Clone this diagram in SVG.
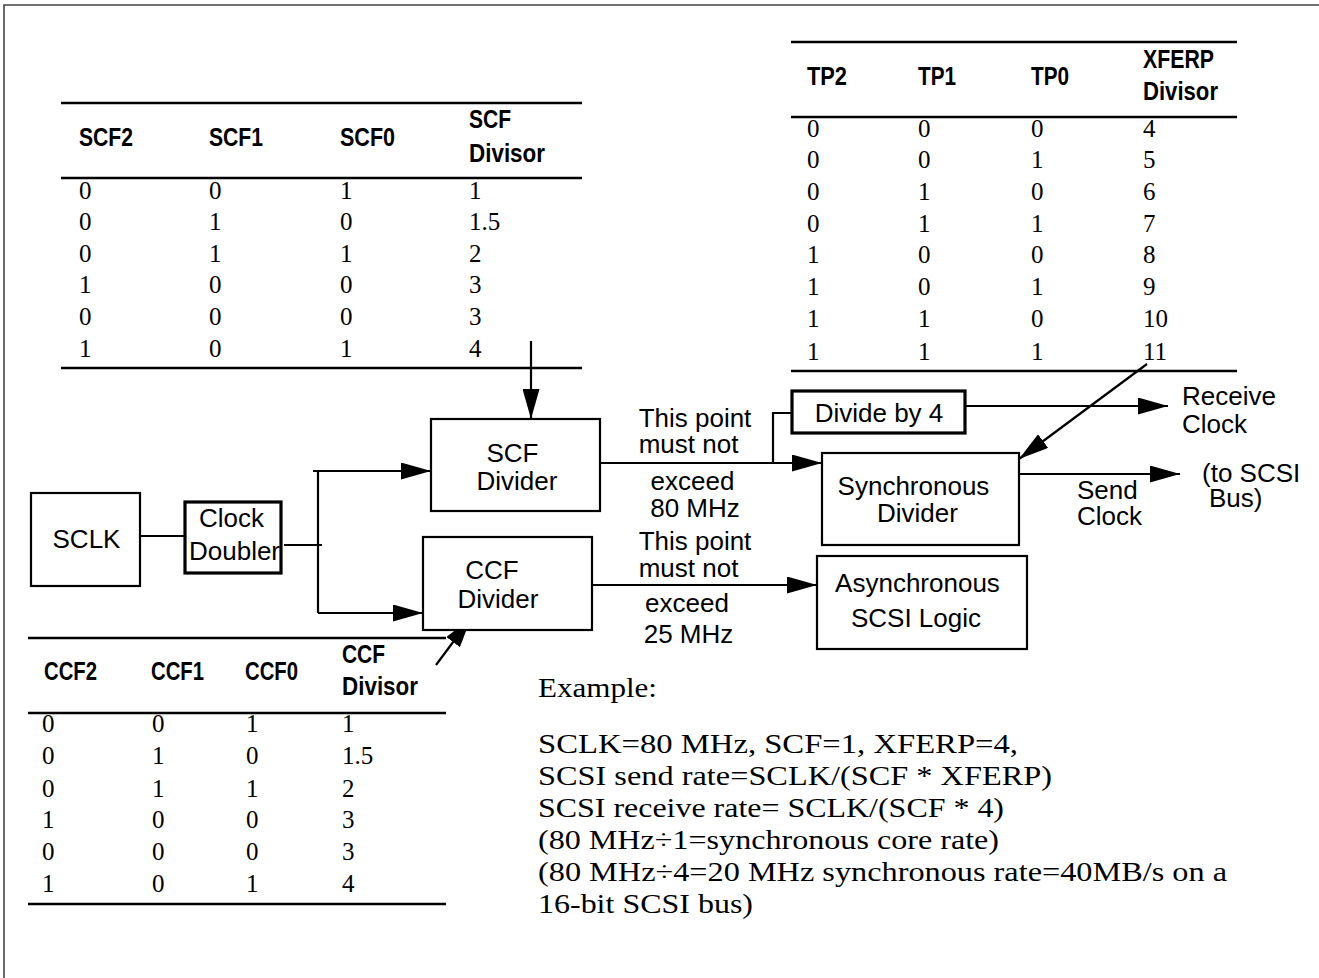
<svg xmlns="http://www.w3.org/2000/svg" width="1319" height="978" viewBox="0 0 1319 978">
<defs>
<marker id="ah" markerUnits="userSpaceOnUse" markerWidth="30" markerHeight="17" refX="30" refY="8.5" orient="auto">
<path d="M0,0 L30,8.5 L0,17 Z" fill="#000"/>
</marker>
</defs>
<style>
.box{fill:#fff;stroke:#000;stroke-width:2.2}
.tbox{fill:#fff;stroke:#000;stroke-width:3.2}
.lbl{font-family:"Liberation Sans",Arial,sans-serif;font-size:26px;fill:#000}
.c{text-anchor:middle}
.hd{font-family:"Liberation Sans",Arial,sans-serif;font-weight:bold;font-size:25px;fill:#000}
.num{font-family:"Liberation Serif","Times New Roman",serif;font-size:25px;fill:#000}
.ex{font-family:"Liberation Serif","Times New Roman",serif;font-size:27px;fill:#000}
.rule{stroke:#000;stroke-width:2.6;fill:none}
.wire{stroke:#000;stroke-width:2.2;fill:none}
.frame{stroke:#444;stroke-width:1.6;fill:none}
</style>
<rect width="1319" height="978" fill="#fff"/>
<path class="frame" d="M4,978 L4,5 L1319,5"/>

<g id="scf-table">
<line class="rule" x1="61" y1="103" x2="582" y2="103"/>
<line class="rule" x1="61" y1="178" x2="582" y2="178"/>
<line class="rule" x1="61" y1="368" x2="582" y2="368"/>
<text class="hd" x="79" y="146" textLength="54" lengthAdjust="spacingAndGlyphs">SCF2</text>
<text class="hd" x="209" y="146" textLength="54" lengthAdjust="spacingAndGlyphs">SCF1</text>
<text class="hd" x="340" y="146" textLength="55" lengthAdjust="spacingAndGlyphs">SCF0</text>
<text class="hd" x="469" y="128" textLength="42" lengthAdjust="spacingAndGlyphs">SCF</text>
<text class="hd" x="469" y="162" textLength="76" lengthAdjust="spacingAndGlyphs">Divisor</text>
<g class="num">
<text x="79" y="199">0</text><text x="209" y="199">0</text><text x="340" y="199">1</text><text x="469" y="199">1</text>
<text x="79" y="230">0</text><text x="209" y="230">1</text><text x="340" y="230">0</text><text x="469" y="230">1.5</text>
<text x="79" y="262">0</text><text x="209" y="262">1</text><text x="340" y="262">1</text><text x="469" y="262">2</text>
<text x="79" y="293">1</text><text x="209" y="293">0</text><text x="340" y="293">0</text><text x="469" y="293">3</text>
<text x="79" y="325">0</text><text x="209" y="325">0</text><text x="340" y="325">0</text><text x="469" y="325">3</text>
<text x="79" y="357">1</text><text x="209" y="357">0</text><text x="340" y="357">1</text><text x="469" y="357">4</text>
</g>
</g>

<g id="tp-table">
<line class="rule" x1="791" y1="42" x2="1237" y2="42"/>
<line class="rule" x1="791" y1="117" x2="1237" y2="117"/>
<line class="rule" x1="791" y1="371" x2="1237" y2="371"/>
<text class="hd" x="807" y="85" textLength="40" lengthAdjust="spacingAndGlyphs">TP2</text>
<text class="hd" x="918" y="85" textLength="38" lengthAdjust="spacingAndGlyphs">TP1</text>
<text class="hd" x="1031" y="85" textLength="38" lengthAdjust="spacingAndGlyphs">TP0</text>
<text class="hd" x="1143" y="68" textLength="71" lengthAdjust="spacingAndGlyphs">XFERP</text>
<text class="hd" x="1143" y="100" textLength="75" lengthAdjust="spacingAndGlyphs">Divisor</text>
<g class="num">
<text x="807" y="137">0</text><text x="918" y="137">0</text><text x="1031" y="137">0</text><text x="1143" y="137">4</text>
<text x="807" y="168">0</text><text x="918" y="168">0</text><text x="1031" y="168">1</text><text x="1143" y="168">5</text>
<text x="807" y="200">0</text><text x="918" y="200">1</text><text x="1031" y="200">0</text><text x="1143" y="200">6</text>
<text x="807" y="232">0</text><text x="918" y="232">1</text><text x="1031" y="232">1</text><text x="1143" y="232">7</text>
<text x="807" y="263">1</text><text x="918" y="263">0</text><text x="1031" y="263">0</text><text x="1143" y="263">8</text>
<text x="807" y="295">1</text><text x="918" y="295">0</text><text x="1031" y="295">1</text><text x="1143" y="295">9</text>
<text x="807" y="327">1</text><text x="918" y="327">1</text><text x="1031" y="327">0</text><text x="1143" y="327">10</text>
<text x="807" y="360">1</text><text x="918" y="360">1</text><text x="1031" y="360">1</text><text x="1143" y="360">11</text>
</g>
</g>

<g id="ccf-table">
<line class="rule" x1="28" y1="638" x2="446" y2="638"/>
<line class="rule" x1="28" y1="713" x2="446" y2="713"/>
<line class="rule" x1="28" y1="904" x2="446" y2="904"/>
<text class="hd" x="44" y="680" textLength="53" lengthAdjust="spacingAndGlyphs">CCF2</text>
<text class="hd" x="151" y="680" textLength="53" lengthAdjust="spacingAndGlyphs">CCF1</text>
<text class="hd" x="245" y="680" textLength="53" lengthAdjust="spacingAndGlyphs">CCF0</text>
<text class="hd" x="342" y="663" textLength="43" lengthAdjust="spacingAndGlyphs">CCF</text>
<text class="hd" x="342" y="695" textLength="76" lengthAdjust="spacingAndGlyphs">Divisor</text>
<g class="num">
<text x="42" y="732">0</text><text x="152" y="732">0</text><text x="246" y="732">1</text><text x="342" y="732">1</text>
<text x="42" y="764">0</text><text x="152" y="764">1</text><text x="246" y="764">0</text><text x="342" y="764">1.5</text>
<text x="42" y="797">0</text><text x="152" y="797">1</text><text x="246" y="797">1</text><text x="342" y="797">2</text>
<text x="42" y="828">1</text><text x="152" y="828">0</text><text x="246" y="828">0</text><text x="342" y="828">3</text>
<text x="42" y="860">0</text><text x="152" y="860">0</text><text x="246" y="860">0</text><text x="342" y="860">3</text>
<text x="42" y="892">1</text><text x="152" y="892">0</text><text x="246" y="892">1</text><text x="342" y="892">4</text>
</g>
</g>

<g id="connectors">
<line class="wire" x1="140" y1="536" x2="185" y2="536"/>
<line class="wire" x1="284" y1="545" x2="322" y2="545"/>
<line class="wire" x1="318" y1="471" x2="318" y2="613"/>
<line class="wire" x1="313" y1="471" x2="431" y2="471" marker-end="url(#ah)"/>
<line class="wire" x1="318" y1="613" x2="423" y2="613" marker-end="url(#ah)"/>
<line class="wire" x1="531" y1="341" x2="531" y2="419" marker-end="url(#ah)"/>
<line class="wire" x1="436" y1="665" x2="471" y2="618" marker-end="url(#ah)"/>
<line class="wire" x1="600" y1="463" x2="822" y2="463" marker-end="url(#ah)"/>
<polyline class="wire" points="773,463 773,413 792,413"/>
<line class="wire" x1="965" y1="406" x2="1168" y2="406" marker-end="url(#ah)"/>
<line class="wire" x1="1147" y1="364" x2="1019" y2="459" marker-end="url(#ah)"/>
<line class="wire" x1="1019" y1="474" x2="1180" y2="474" marker-end="url(#ah)"/>
<line class="wire" x1="592" y1="585" x2="817" y2="585" marker-end="url(#ah)"/>
</g>

<g id="sclk">
<rect class="box" x="31" y="493" width="109" height="93"/>
<text class="lbl c" x="86.5" y="548">SCLK</text>
</g>
<g id="clock-doubler">
<rect class="tbox" x="185" y="502" width="96" height="71"/>
<text class="lbl c" x="231.5" y="527">Clock</text>
<text class="lbl c" x="234.5" y="560">Doubler</text>
</g>
<g id="scf-divider">
<rect class="box" x="431" y="419" width="169" height="92"/>
<text class="lbl c" x="512.5" y="462">SCF</text>
<text class="lbl c" x="517" y="490">Divider</text>
</g>
<g id="ccf-divider">
<rect class="box" x="423" y="537" width="169" height="93"/>
<text class="lbl c" x="492" y="579">CCF</text>
<text class="lbl c" x="498" y="608">Divider</text>
</g>
<g id="divide-by-4">
<rect class="tbox" x="792" y="391" width="173" height="42"/>
<text class="lbl c" x="879" y="422">Divide by 4</text>
</g>
<g id="sync-divider">
<rect class="box" x="822" y="453" width="197" height="92"/>
<text class="lbl c" x="913.5" y="495">Synchronous</text>
<text class="lbl c" x="917.5" y="522">Divider</text>
</g>
<g id="async-logic">
<rect class="box" x="817" y="556" width="210" height="93"/>
<text class="lbl c" x="917.5" y="592">Asynchronous</text>
<text class="lbl c" x="916" y="627">SCSI Logic</text>
</g>

<g id="labels">
<text class="lbl c" x="695" y="427">This point</text>
<text class="lbl c" x="688.5" y="453">must not</text>
<text class="lbl c" x="692.5" y="490">exceed</text>
<text class="lbl c" x="695" y="517">80 MHz</text>
<text class="lbl c" x="695" y="550">This point</text>
<text class="lbl c" x="688.5" y="577">must not</text>
<text class="lbl c" x="687" y="612">exceed</text>
<text class="lbl c" x="688.5" y="643">25 MHz</text>
<text class="lbl" x="1182" y="405">Receive</text>
<text class="lbl" x="1182" y="433">Clock</text>
<text class="lbl" x="1077" y="499">Send</text>
<text class="lbl" x="1077" y="525">Clock</text>
<text class="lbl" x="1202" y="482">(to SCSI</text>
<text class="lbl" x="1209" y="507">Bus)</text>
</g>

<g id="example">
<text class="ex" x="538" y="697" textLength="119" lengthAdjust="spacingAndGlyphs">Example:</text>
<text class="ex" x="538" y="753" textLength="480" lengthAdjust="spacingAndGlyphs">SCLK=80 MHz, SCF=1, XFERP=4,</text>
<text class="ex" x="538" y="785" textLength="514" lengthAdjust="spacingAndGlyphs">SCSI send rate=SCLK/(SCF * XFERP)</text>
<text class="ex" x="538" y="817" textLength="466" lengthAdjust="spacingAndGlyphs">SCSI receive rate= SCLK/(SCF * 4)</text>
<text class="ex" x="538" y="849" textLength="461" lengthAdjust="spacingAndGlyphs">(80 MHz÷1=synchronous core rate)</text>
<text class="ex" x="538" y="881" textLength="689" lengthAdjust="spacingAndGlyphs">(80 MHz÷4=20 MHz synchronous rate=40MB/s on a</text>
<text class="ex" x="538" y="913" textLength="215" lengthAdjust="spacingAndGlyphs">16-bit SCSI bus)</text>
</g>
</svg>
